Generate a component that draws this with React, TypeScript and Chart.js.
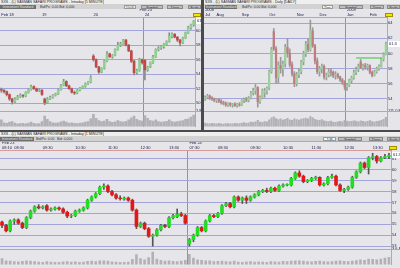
import React, { useEffect, useRef } from "react";
import { Chart, registerables } from "chart.js";

Chart.register(...registerables);

// ---------------- DATA ----------------
// Top-left: 5-minute candles  [open, high, low, close]
const tlOHLC: number[][] = [
  [51.9, 52.1, 51.5, 51.8], [51.8, 51.9, 51.4, 51.6], [51.6, 51.7, 51.0, 51.2], [51.2, 51.3, 50.4, 50.6],
  [50.6, 50.7, 49.9, 50.2], [50.2, 50.8, 50.1, 50.6], [50.6, 51.1, 50.5, 50.9], [50.9, 51.3, 50.8, 51.1],
  [51.1, 51.2, 50.8, 51.0], [51.0, 51.6, 50.9, 51.5], [51.5, 52.0, 51.4, 51.9], [51.9, 52.5, 51.8, 52.3],
  [52.3, 52.4, 51.9, 52.0], [52.0, 52.1, 51.6, 51.7], [51.7, 52.0, 51.6, 51.8], [51.8, 51.9, 51.1, 51.2],
  [50.6, 50.7, 49.8, 50.1], [50.1, 50.8, 50.0, 50.6], [50.6, 51.0, 50.5, 50.8], [50.8, 51.2, 50.7, 51.1],
  [51.1, 51.4, 51.0, 51.3], [51.3, 52.0, 51.2, 51.9], [51.9, 52.6, 51.8, 52.5], [52.5, 53.3, 52.4, 53.0],
  [53.0, 53.1, 52.3, 52.4], [52.4, 52.5, 51.9, 52.0], [52.0, 52.1, 51.4, 51.5], [51.5, 51.7, 51.2, 51.4],
  [51.4, 51.9, 51.3, 51.8], [51.8, 52.2, 51.7, 52.1], [52.1, 52.4, 52.0, 52.3], [52.3, 52.8, 52.2, 52.7],
  [52.7, 53.0, 52.6, 52.9], [52.9, 53.8, 52.8, 53.6], [56.5, 56.7, 55.8, 56.0], [56.0, 56.1, 54.9, 55.0],
  [55.0, 55.1, 54.1, 54.3], [54.3, 54.9, 54.2, 54.8], [54.8, 55.9, 54.7, 55.8], [55.8, 57.1, 55.7, 56.8],
  [56.8, 56.9, 56.3, 56.4], [56.4, 56.7, 56.2, 56.6], [56.6, 57.5, 56.5, 57.4], [57.4, 58.4, 57.3, 58.0],
  [58.0, 58.4, 57.8, 58.2], [58.2, 58.8, 58.1, 58.7], [58.7, 58.8, 57.9, 58.0], [58.0, 58.1, 57.1, 57.2],
  [57.2, 57.3, 55.6, 55.8], [55.8, 55.9, 53.9, 54.2], [54.2, 54.7, 54.0, 54.5], [54.5, 56.2, 54.4, 56.0],
  [56.0, 56.1, 55.4, 55.6], [55.9, 56.0, 53.2, 54.6], [54.6, 55.1, 54.4, 55.0], [55.0, 55.7, 54.9, 55.6],
  [55.6, 56.6, 55.5, 56.4], [56.4, 57.5, 56.3, 57.4], [57.4, 57.8, 57.2, 57.6], [57.6, 57.9, 57.4, 57.8],
  [57.8, 58.2, 57.6, 58.1], [58.1, 58.6, 58.0, 58.5], [58.5, 59.7, 58.4, 59.2], [59.2, 59.7, 59.0, 59.5],
  [59.5, 59.6, 59.0, 59.1], [59.1, 59.2, 58.5, 58.7], [58.7, 58.8, 57.9, 58.3], [58.3, 59.1, 58.2, 59.0],
  [59.0, 59.8, 58.9, 59.7], [59.7, 60.6, 59.6, 60.4], [60.4, 60.9, 60.2, 60.8], [60.8, 61.4, 60.6, 61.3],
];
const tlVolume = [
  1200, 700, 600, 800, 900, 650, 500, 550, 600, 500, 650, 800, 600, 500, 550, 900,
  1900, 1300, 900, 700, 650, 700, 850, 1000, 800, 650, 700, 600, 550, 650, 700, 800, 900, 1400,
  2200, 1500, 1100, 900, 1000, 1300, 900, 750, 850, 1100, 900, 800, 950, 1200, 1600, 1900, 1300, 1100, 1000,
  2000, 1500, 1100, 1000, 1200, 900, 800, 850, 950, 1200, 900, 800, 900, 1000, 1100, 1300, 1400, 1700, 2100,
];
const tlTickIdx = [0, 15, 34, 51, 53];
const tlTickTop = ["", "", "", "Feb 23", ""];
const tlTickBottom = ["Feb 18", "19", "20", "", "24"];
const tlDayBreak = 53;

// Top-right: daily candles Jul 2008 - Feb 2009
const trOHLC: number[][] = [
  [54.0, 54.4, 53.8, 54.2], [54.2, 54.6, 54.0, 54.4], [54.4, 54.5, 53.9, 54.1], [54.1, 54.3, 53.8, 54.0],
  [54.0, 54.1, 53.6, 53.8], [53.8, 54.0, 53.5, 53.9], [53.9, 54.0, 53.5, 53.7], [53.7, 53.9, 53.3, 53.5],
  [53.5, 53.7, 53.2, 53.4], [53.4, 53.6, 53.0, 53.2], [53.2, 53.5, 53.0, 53.4], [53.4, 53.5, 53.0, 53.2],
  [53.2, 53.4, 52.9, 53.3], [53.3, 53.5, 53.0, 53.1], [53.1, 53.4, 52.9, 53.3], [53.3, 53.5, 53.0, 53.2],
  [53.2, 53.9, 53.1, 53.8], [53.8, 54.1, 53.5, 53.9], [53.9, 54.2, 53.6, 53.8], [53.8, 54.3, 53.6, 54.1],
  [54.1, 55.0, 54.0, 54.8], [54.8, 55.4, 54.5, 55.1], [55.1, 55.9, 54.6, 55.5], [55.5, 55.6, 52.9, 53.6],
  [53.6, 54.4, 53.4, 54.2], [54.2, 55.3, 54.0, 55.1], [54.8, 55.4, 54.2, 55.0], [55.0, 55.6, 54.6, 55.4],
  [55.4, 57.8, 55.2, 57.6], [57.6, 60.8, 57.4, 60.5], [62.9, 63.3, 60.4, 60.6], [60.6, 60.9, 56.0, 56.8],
  [56.8, 58.9, 56.1, 58.4], [58.4, 59.5, 57.4, 58.0], [58.0, 59.0, 57.0, 58.6], [58.6, 61.2, 58.2, 60.8],
  [60.8, 62.0, 59.5, 60.0], [60.0, 60.6, 58.2, 58.5], [58.5, 58.9, 57.0, 57.3], [57.3, 57.6, 55.6, 56.0],
  [56.0, 57.5, 55.7, 57.2], [57.2, 58.0, 56.8, 57.6], [57.6, 59.1, 57.3, 58.9], [58.9, 60.3, 58.5, 60.0],
  [60.0, 61.6, 59.6, 61.2], [61.2, 62.0, 60.2, 60.5], [60.5, 64.4, 60.3, 63.0], [63.0, 63.4, 60.8, 61.0],
  [61.0, 61.2, 58.6, 59.0], [59.0, 59.4, 57.3, 57.6], [57.6, 58.3, 57.0, 58.0], [58.0, 58.6, 57.4, 58.3],
  [58.3, 58.5, 56.6, 56.9], [56.9, 57.4, 56.5, 57.2], [57.2, 58.0, 56.9, 57.6], [57.6, 58.0, 57.0, 57.5],
  [57.5, 57.7, 56.8, 57.1], [57.1, 57.6, 56.6, 57.2], [57.2, 57.4, 56.7, 56.9], [56.9, 57.0, 56.3, 56.5],
  [56.5, 56.7, 55.9, 56.2], [56.2, 56.4, 55.2, 55.6], [55.6, 56.0, 55.1, 55.8], [55.8, 56.6, 55.6, 56.4],
  [56.4, 57.0, 56.1, 56.8], [56.8, 57.8, 56.6, 57.5], [57.5, 58.2, 57.2, 57.9], [57.9, 58.6, 57.6, 58.3],
  [58.9, 59.2, 58.0, 58.1], [58.1, 58.6, 57.8, 58.4], [58.4, 58.7, 57.9, 58.2], [58.2, 58.6, 57.8, 58.4],
  [58.4, 58.5, 57.3, 57.5], [57.5, 57.7, 56.9, 57.1], [57.1, 57.8, 57.0, 57.6], [57.6, 58.2, 57.4, 58.0],
  [58.0, 58.5, 57.8, 58.3], [58.3, 59.4, 58.2, 59.2], [59.2, 60.1, 59.0, 59.9], [59.9, 61.5, 59.8, 61.3],
];
const trVolume = [
  26, 22, 20, 24, 21, 19, 23, 20, 18, 22, 21, 19, 20, 24, 22, 21,
  25, 28, 24, 27, 32, 30, 35, 45, 33, 31, 36, 34,
  48, 62, 70, 58, 50, 55, 47, 52, 60, 49, 44, 56,
  50, 46, 53, 58, 61, 55, 72, 64, 52, 47, 45, 50,
  42, 38, 36, 40, 33, 30, 34, 37, 35, 44,
  40, 36, 38, 42, 39, 35, 41, 37, 34, 38, 43, 36, 33, 37, 40, 45, 52, 66,
];
const trTickIdx = [0, 5, 16, 28, 40, 50, 62, 72];
const trTickTop = ["2008", "", "", "", "", "", "2009", ""];
const trTickBottom = ["Jul", "Aug", "Sep", "Oct", "Nov", "Dec", "Jan", "Feb"];
const trDayBreak = 62;
const trTrendLevel = 59.4;
const trTrendFrom = 66;
const trTrendTo = 77;

// Bottom: intraday candles Feb 23 - Feb 24
const bOHLC: number[][] = [
  [55.2, 55.3, 54.7, 54.9], [54.9, 55.0, 54.3, 54.4], [54.4, 55.4, 54.3, 55.3], [55.3, 55.5, 55.0, 55.4],
  [55.4, 55.5, 55.0, 55.1], [55.1, 55.2, 54.6, 54.7], [54.7, 55.7, 54.6, 55.6], [55.6, 56.3, 55.5, 56.2],
  [56.2, 56.7, 56.1, 56.6], [56.6, 56.8, 56.4, 56.5], [56.5, 56.7, 56.4, 56.6], [56.7, 56.8, 56.2, 56.3],
  [56.3, 56.5, 56.2, 56.4], [56.4, 56.6, 56.3, 56.5], [56.5, 56.6, 56.3, 56.4], [56.4, 56.5, 56.0, 56.1],
  [56.1, 56.2, 55.6, 55.75], [55.75, 55.9, 55.6, 55.8], [55.8, 56.3, 55.7, 56.2], [56.2, 56.4, 56.1, 56.3],
  [56.3, 56.6, 56.2, 56.5], [56.5, 57.3, 56.4, 57.2], [57.2, 57.6, 57.1, 57.5], [57.5, 57.9, 57.4, 57.8],
  [57.8, 58.5, 57.7, 58.4], [58.4, 58.7, 58.2, 58.5], [58.5, 58.6, 57.9, 58.0], [58.0, 58.1, 57.6, 57.7],
  [57.7, 57.8, 57.3, 57.4], [57.4, 57.6, 57.2, 57.35], [57.3, 57.5, 57.2, 57.4], [57.4, 57.5, 57.1, 57.2],
  [57.2, 57.3, 56.2, 56.3], [56.3, 56.4, 54.6, 54.8], [54.8, 55.2, 54.7, 55.1], [55.1, 55.2, 54.5, 54.6],
  [54.6, 54.7, 53.8, 53.9], [53.9, 54.1, 53.0, 54.0], [54.0, 54.6, 53.9, 54.5], [54.5, 55.0, 54.4, 54.9],
  [54.9, 55.0, 54.7, 54.8], [54.8, 55.7, 54.7, 55.6], [55.6, 55.9, 55.5, 55.8], [55.7, 56.4, 55.6, 55.9],
  [55.9, 56.1, 55.7, 55.8], [55.8, 55.9, 55.0, 55.1],
  [53.2, 53.7, 53.0, 53.6], [53.6, 54.1, 53.4, 54.0], [54.0, 54.8, 53.9, 54.7], [54.7, 54.8, 54.3, 54.4],
  [54.4, 55.4, 54.3, 55.3], [55.3, 55.9, 55.2, 55.8], [55.8, 55.9, 55.6, 55.7], [55.7, 56.1, 55.6, 56.0],
  [56.0, 56.8, 55.9, 56.7], [56.7, 57.0, 56.6, 56.9], [56.9, 57.0, 56.5, 56.6], [56.6, 57.6, 56.5, 57.5],
  [57.5, 57.6, 57.1, 57.2], [57.2, 57.5, 56.9, 57.4], [57.4, 57.6, 56.9, 57.2], [57.2, 57.6, 57.1, 57.5],
  [57.5, 57.8, 57.4, 57.7], [57.7, 58.1, 57.6, 58.0], [58.0, 58.2, 57.9, 58.1], [58.1, 58.3, 57.9, 58.0],
  [58.0, 58.4, 57.9, 58.3], [58.3, 58.4, 58.0, 58.1], [58.1, 58.6, 58.0, 58.5], [58.5, 58.7, 58.4, 58.6],
  [58.6, 58.7, 58.5, 58.65], [58.6, 59.3, 58.5, 59.2], [59.2, 59.8, 59.1, 59.7], [59.7, 59.9, 59.3, 59.4],
  [59.4, 59.5, 58.8, 58.9], [58.9, 59.1, 58.8, 59.0], [59.0, 59.3, 58.9, 59.2], [59.2, 59.4, 59.1, 59.3],
  [59.3, 59.35, 58.5, 58.6], [58.6, 58.8, 58.5, 58.7], [58.7, 59.4, 58.6, 59.3], [59.3, 59.6, 59.2, 59.4],
  [59.4, 59.5, 58.5, 58.6], [58.6, 58.7, 58.0, 58.1], [58.1, 58.3, 57.9, 58.2], [58.2, 58.5, 58.1, 58.4],
  [58.4, 59.4, 58.3, 59.3], [59.3, 59.9, 59.2, 59.8], [59.8, 60.7, 59.7, 60.6], [60.6, 60.7, 60.1, 60.2],
  [60.2, 61.2, 59.6, 61.1], [61.1, 61.5, 60.9, 61.2], [61.2, 61.3, 60.6, 60.8], [60.8, 61.2, 60.7, 61.1],
  [61.1, 61.4, 61.0, 61.2], [61.2, 61.5, 61.0, 61.3],
];
const bVolume = [
  1400, 900, 800, 700, 650, 750, 900, 800, 700, 600, 550, 700, 600, 500, 550, 650,
  700, 600, 650, 550, 600, 750, 800, 700, 900, 850, 800, 650, 600, 550, 500, 600,
  1200, 2300, 1400, 1100, 1600, 2900, 1300, 1000, 800, 900, 750, 700, 800, 1000,
  2400, 1500, 1100, 1000, 900, 850, 700, 750, 800, 700, 650, 800, 600, 550, 650, 700, 600, 650,
  600, 550, 700, 650, 600, 750, 700, 800, 900, 850, 800, 700, 650, 750, 800, 700,
  650, 700, 800, 900, 750, 700, 800, 950, 1100, 1000, 1300, 1200, 1100, 1300, 1500, 1700,
];
const bTickIdx = [0, 3, 10, 18, 26, 34, 41, 46, 53, 61, 69, 76, 84, 91];
const bTickTop = ["Feb 23", "", "", "", "", "", "", "Feb 24", "", "", "", "", "", ""];
const bTickBottom = ["08:10", "08:30", "09:30", "10:30", "11:30", "12:30", "13:30", "07:30", "08:30", "09:30", "10:30", "11:30", "12:30", "13:30"];
const bDayBreak = 46;

const lastPrice = 61.3;

// ---------------- STYLE ----------------
const FONT = "'Liberation Sans', 'DejaVu Sans', Arial, sans-serif";
const BG = "#e6e6ea";
const GRID = "#a4a4da";
const PINK = "#d59a9a";

type Spec = {
  ohlc: number[][];
  volume: number[];
  tickIdx: number[];
  tickTop: string[];
  tickBottom: string[];
  dayBreak: number;
  min: number;
  max: number;
  step: number;
  volMax: number;
  volLabel: string;
  priceWeight: number;
  volWeight: number;
  axisW: number;
  bodyW: number;
  volBarW: number;
  up: string;
  down: string;
  wick: string;
  volColor: string;
  trend?: { level: number; from: number; to: number };
};

const deco = {
  id: "panelDeco",
  afterDraw(chart: any, _args: any, opts: any) {
    const { ctx, chartArea, scales } = chart;
    const y = scales.y;
    ctx.save();
    ctx.strokeStyle = PINK;
    ctx.lineWidth = 1;
    const sy = Math.round(y.bottom) + 0.5;
    ctx.beginPath();
    ctx.moveTo(chartArea.left, sy);
    ctx.lineTo(chart.width, sy);
    ctx.stroke();
    const py = y.getPixelForValue(opts.last);
    ctx.fillStyle = "#ffffff";
    ctx.fillRect(chartArea.right + 1, Math.round(py) - 3, chart.width - chartArea.right, 6);
    ctx.fillStyle = "#1a1a40";
    ctx.font = "4px " + FONT;
    ctx.textBaseline = "middle";
    ctx.textAlign = "left";
    ctx.fillText(opts.text, chartArea.right + 2, Math.round(py));
    ctx.fillStyle = "#f2e600";
    ctx.fillRect(chartArea.right - 2, chartArea.top - 4, 8, 4);
    ctx.strokeStyle = "#a09000";
    ctx.strokeRect(chartArea.right - 1.5, chartArea.top - 3.5, 7, 3);
    ctx.restore();
  },
};

function buildConfig(s: Spec): any {
  const labels = s.ohlc.map((_, i) => String(i));
  const tickMap = new Map<number, string[]>();
  s.tickIdx.forEach((idx, k) => tickMap.set(idx, [s.tickTop[k], s.tickBottom[k]]));
  const isUp = (c: number[]) => c[3] >= c[0];
  const datasets: any[] = [
    {
      type: "bar",
      data: s.ohlc.map((c) => [c[0], c[3]]),
      backgroundColor: s.ohlc.map((c) => (isUp(c) ? s.up : s.down)),
      barThickness: s.bodyW,
      grouped: false,
      yAxisID: "y",
      order: 1,
    },
    {
      type: "bar",
      data: s.ohlc.map((c) => [c[2], c[1]]),
      backgroundColor: s.wick,
      barThickness: 1,
      grouped: false,
      yAxisID: "y",
      order: 2,
    },
    {
      type: "bar",
      data: s.volume,
      backgroundColor: s.volColor,
      barThickness: s.volBarW,
      grouped: false,
      yAxisID: "yv",
      order: 3,
    },
  ];
  if (s.trend) {
    const t = s.trend;
    datasets.push({
      type: "line",
      data: s.ohlc.map((_, i) => (i === t.from || i === t.to ? t.level : null)),
      borderColor: "#3cbf3c",
      borderWidth: 1,
      pointRadius: 0,
      spanGaps: true,
      yAxisID: "y",
      order: 0,
    });
  }
  const font = { size: 4, family: FONT };
  return {
    type: "bar",
    data: { labels, datasets },
    plugins: [deco],
    options: {
      animation: false,
      responsive: false,
      maintainAspectRatio: false,
      devicePixelRatio: 1,
      layout: { padding: 0 },
      events: [],
      plugins: {
        legend: { display: false },
        tooltip: { enabled: false },
        panelDeco: { last: lastPrice, text: String(lastPrice) },
      },
      scales: {
        x: {
          type: "category",
          position: "top",
          offset: true,
          grid: {
            offset: true,
            drawTicks: false,
            color: (ctx: any) => (ctx.index === s.dayBreak ? "#8c8cd0" : "rgba(0,0,0,0)"),
          },
          border: { display: true, color: PINK },
          ticks: {
            autoSkip: false,
            maxRotation: 0,
            minRotation: 0,
            align: "start",
            padding: 0,
            font,
            color: "#20204a",
            callback: (_v: any, i: number) => tickMap.get(i) ?? "",
          },
          afterFit: (sc: any) => {
            sc.height = 8;
          },
        },
        y: {
          position: "right",
          stack: "p",
          stackWeight: s.priceWeight,
          min: s.min,
          max: s.max,
          grid: { color: GRID, drawTicks: false },
          border: { display: true, color: PINK },
          ticks: {
            stepSize: s.step,
            includeBounds: false,
            autoSkip: false,
            padding: 1,
            font,
            color: "#20204a",
            callback: (v: any) => String(v),
          },
          afterFit: (sc: any) => {
            sc.width = s.axisW;
          },
        },
        yv: {
          position: "right",
          stack: "p",
          stackWeight: s.volWeight,
          min: 0,
          max: s.volMax,
          grid: { display: false, drawTicks: false },
          border: { display: true, color: PINK },
          ticks: {
            stepSize: s.volMax,
            autoSkip: false,
            padding: 1,
            font,
            color: "#20204a",
            callback: (v: any) => (v === s.volMax ? s.volLabel : ""),
          },
          afterFit: (sc: any) => {
            sc.width = s.axisW;
          },
        },
      },
    },
  };
}

function CandleChart({ spec, width, height }: { spec: Spec; width: number; height: number }) {
  const ref = useRef<HTMLCanvasElement>(null);
  useEffect(() => {
    const chart = new Chart(ref.current as HTMLCanvasElement, buildConfig(spec));
    return () => chart.destroy();
  }, []);
  return <canvas ref={ref} width={width} height={height} style={{ display: "block", width, height }} />;
}

type Tool = { text: string; x: number; w: number; kind: "dark" | "btn" | "field" | "plain" };

function Toolbar({ tools, width }: { tools: Tool[]; width: number }) {
  return (
    <div style={{ position: "absolute", left: 0, top: 4, width, height: 5, background: "#d2d2d2", overflow: "hidden" }}>
      {tools.map((t, i) => {
        const base: React.CSSProperties = {
          position: "absolute",
          left: t.x,
          top: 0.5,
          width: t.w,
          height: 4,
          fontSize: 3.4,
          lineHeight: "4px",
          textAlign: "center",
          whiteSpace: "nowrap",
          overflow: "hidden",
          boxSizing: "border-box",
        };
        if (t.kind === "dark") Object.assign(base, { background: "#6e6e6e", color: "#e8e8e8" });
        if (t.kind === "btn") Object.assign(base, { background: "#bdbdbd", color: "#222", border: "0.5px solid #8a8a8a" });
        if (t.kind === "field") Object.assign(base, { background: "#f4f4f4", color: "#222", border: "0.5px solid #9a9a9a" });
        if (t.kind === "plain") Object.assign(base, { color: "#333", textAlign: "left" });
        return (
          <div key={i} style={base}>
            {t.text}
          </div>
        );
      })}
    </div>
  );
}

function Panel(props: {
  left: number;
  top: number;
  width: number;
  title: string;
  tools: Tool[];
  spec: Spec;
  canvasTop: number;
  canvasH: number;
}) {
  const { left, top, width, title, tools, spec, canvasTop, canvasH } = props;
  return (
    <div style={{ position: "absolute", left, top, width, height: canvasTop + canvasH, background: BG, overflow: "hidden" }}>
      <div
        style={{
          position: "absolute",
          left: 0,
          top: 0,
          width,
          height: 4,
          background: "#efefef",
          fontSize: 3.6,
          lineHeight: "4px",
          color: "#222",
          whiteSpace: "nowrap",
          overflow: "hidden",
          paddingLeft: 1,
          boxSizing: "border-box",
        }}
      >
        {title}
      </div>
      <Toolbar tools={tools} width={width} />
      {canvasTop > 9 && <div style={{ position: "absolute", left: 0, top: 9, width, height: 1, background: PINK }} />}
      <div style={{ position: "absolute", left: 0, top: canvasTop, width, height: canvasH }}>
        <CandleChart spec={spec} width={width} height={canvasH} />
      </div>
    </div>
  );
}

const tlSpec: Spec = {
  ohlc: tlOHLC, volume: tlVolume, tickIdx: tlTickIdx, tickTop: tlTickTop, tickBottom: tlTickBottom,
  dayBreak: tlDayBreak, min: 48.93, max: 61.87, step: 2, volMax: 2800, volLabel: "2.8 M",
  priceWeight: 97, volWeight: 16, axisW: 6, bodyW: 2, volBarW: 2,
  up: "#8fd18f", down: "#c04848", wick: "#8a8a8a", volColor: "#b2b2b6",
};
const trSpec: Spec = {
  ohlc: trOHLC, volume: trVolume, tickIdx: trTickIdx, tickTop: trTickTop, tickBottom: trTickBottom,
  dayBreak: trDayBreak, min: 52.38, max: 64.82, step: 2, volMax: 111, volLabel: "111.0 M",
  priceWeight: 97, volWeight: 16, axisW: 13, bodyW: 1.6, volBarW: 1.5,
  up: "#9fcf9f", down: "#c07c7c", wick: "#9a9a9a", volColor: "#b2b2b6",
  trend: { level: trTrendLevel, from: trTrendFrom, to: trTrendTo },
};
const bSpec: Spec = {
  ohlc: bOHLC, volume: bVolume, tickIdx: bTickIdx, tickTop: bTickTop, tickBottom: bTickBottom,
  dayBreak: bDayBreak, min: 52.73, max: 61.8, step: 1, volMax: 3600, volLabel: "3.6 M",
  priceWeight: 102, volWeight: 16, axisW: 9, bodyW: 3, volBarW: 2,
  up: "#22dd22", down: "#e01818", wick: "#555555", volColor: "#b2b2b6",
};

const TITLE = "SXS - (L) SASMAN SAFARI PROGRAMS - Intraday";

export default function App() {
  return (
    <div
      style={{
        position: "fixed",
        left: 0,
        top: 0,
        width: 400,
        height: 268,
        background: "#4b4b4b",
        overflow: "hidden",
        fontFamily: FONT,
      }}
    >
      <Panel
        left={0}
        top={0}
        width={201}
        title={TITLE + " [5 MINUTE]"}
        tools={[
          { text: "Instrument Standard", x: 0, w: 36, kind: "dark" },
          { text: "Bid/Px: 0.00   Bid: 0,000", x: 40, w: 50, kind: "plain" },
          { text: "10:00", x: 124, w: 12, kind: "field" },
          { text: "Symbol", x: 141, w: 22, kind: "btn" },
          { text: "Draw", x: 167, w: 16, kind: "btn" },
          { text: "Scale", x: 188, w: 13, kind: "btn" },
        ]}
        spec={tlSpec}
        canvasTop={9}
        canvasH={121}
      />
      <Panel
        left={204}
        top={0}
        width={196}
        title={"SXS - (L) SASMAN SAFARI PROGRAMS - Daily [DAILY]"}
        tools={[
          { text: "Instrument Standard", x: 1, w: 32, kind: "dark" },
          { text: "Bid/Px: 0.00   Bid: 0,000", x: 38, w: 50, kind: "plain" },
          { text: "Day", x: 118, w: 11, kind: "field" },
          { text: "Symbol", x: 135, w: 24, kind: "btn" },
          { text: "Draw", x: 166, w: 14, kind: "btn" },
          { text: "Scale", x: 183, w: 13, kind: "btn" },
        ]}
        spec={trSpec}
        canvasTop={9}
        canvasH={121}
      />
      <Panel
        left={0}
        top={132}
        width={400}
        title={TITLE + " [1 MINUTE]"}
        tools={[
          { text: "Instrument Standard", x: 0, w: 34, kind: "dark" },
          { text: "Bid/Px: 0.00", x: 36, w: 20, kind: "plain" },
          { text: "Bid: 0,000", x: 57, w: 18, kind: "plain" },
          { text: "1 M", x: 323, w: 13, kind: "field" },
          { text: "Symbol", x: 338, w: 24, kind: "btn" },
          { text: "Draw", x: 369, w: 14, kind: "btn" },
          { text: "Scale", x: 387, w: 13, kind: "btn" },
        ]}
        spec={bSpec}
        canvasTop={10}
        canvasH={126}
      />
    </div>
  );
}
